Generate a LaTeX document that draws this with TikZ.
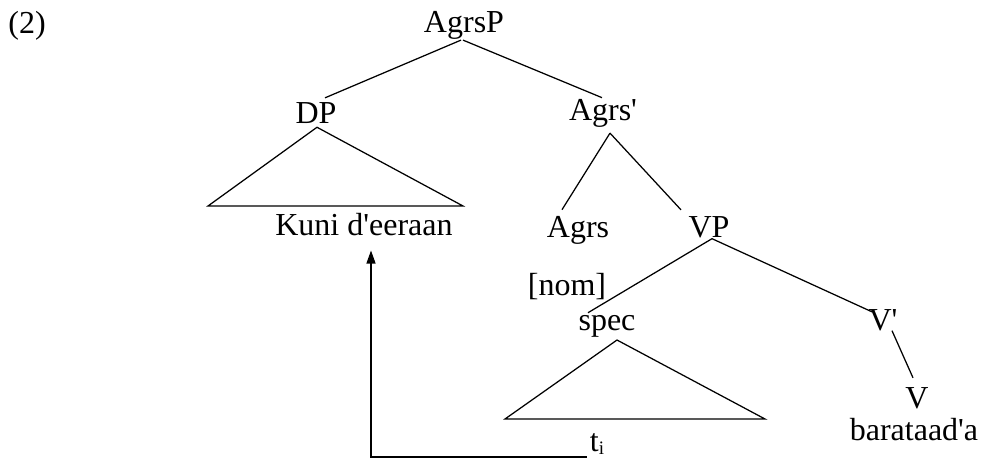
\documentclass[tikz,border=0pt]{standalone}
\usepackage{fontspec}
\newfontfamily\treefont{Liberation Serif}
\usetikzlibrary{arrows.meta}
\begin{document}
\begin{tikzpicture}[x=1pt,y=1pt,
  lbl/.style={inner sep=0pt,anchor=base,font=\treefont\fontsize{32}{38}\selectfont},
  branch/.style={line width=1.25pt},
  movearrow/.style={line width=1.25pt,-{Triangle[length=13pt,width=9pt]}}]
\useasboundingbox (0,0) rectangle (987,459);
\fill[white] (0,0) rectangle (987,459);

% example number
\node[lbl] (num) at (27,425) {(2)};

% node labels
\node[lbl] (AgrsP) at (464,426) {AgrsP};
\node[lbl] (DP) at (316,336) {DP};
\node[lbl] (Kuni) at (364,224) {Kuni d'eeraan};
\node[lbl] (Agrsbar) at (603,339) {Agrs'};
\node[lbl] (Agrs) at (578,222) {Agrs};
\node[lbl] (VP) at (709,222) {VP};
\node[lbl] (nom) at (567,164) {[nom]};
\node[lbl] (spec) at (607,129) {spec};
\node[lbl] (ti) at (597,8) {t\raisebox{-3pt}{\fontsize{19}{20}\selectfont i}};
\node[lbl] (Vbar) at (883,129) {V'};
\node[lbl] (V) at (917,51) {V};
\node[lbl] (verb) at (914,19) {barataad'a};

% branches
\draw[branch] ([xshift=-3pt]AgrsP.south) -- ([xshift=9pt,yshift=4pt]DP.north);
\draw[branch] ([xshift=-1pt]AgrsP.south) -- ([xshift=-1pt,yshift=1pt]Agrsbar.north);
\draw[branch] ([xshift=7pt,yshift=-6pt]Agrsbar.south) -- ([xshift=-16pt,yshift=6pt]Agrs.north);
\draw[branch] ([xshift=7pt,yshift=-6pt]Agrsbar.south) -- ([xshift=-28pt,yshift=6pt]VP.north);
\draw[branch] ([xshift=3pt,yshift=-1pt]VP.south) -- ([xshift=-19pt,yshift=2pt]spec.north);
\draw[branch] ([xshift=3pt,yshift=-1pt]VP.south) -- ([xshift=-11pt,yshift=-3pt]Vbar.north);
\draw[branch] ([xshift=9pt,yshift=0pt]Vbar.south) -- ([xshift=-4pt,yshift=9pt]V.north);

% collapsed constituents
\coordinate (dpL) at (208,253);
\coordinate (dpR) at (463,253);
\draw[branch,line join=miter] ([xshift=1pt,yshift=-4pt]DP.south) -- (dpL) -- (dpR) -- cycle;
\coordinate (spL) at (505,40);
\coordinate (spR) at (765,40);
\draw[branch,line join=miter] ([xshift=10pt,yshift=-3pt]spec.south) -- (spL) -- (spR) -- cycle;

% movement of the subject
\draw[movearrow] ([xshift=-3pt,yshift=-6pt]ti.base west) -| ([xshift=7pt,yshift=-15pt]Kuni.south);
\end{tikzpicture}
\end{document}
